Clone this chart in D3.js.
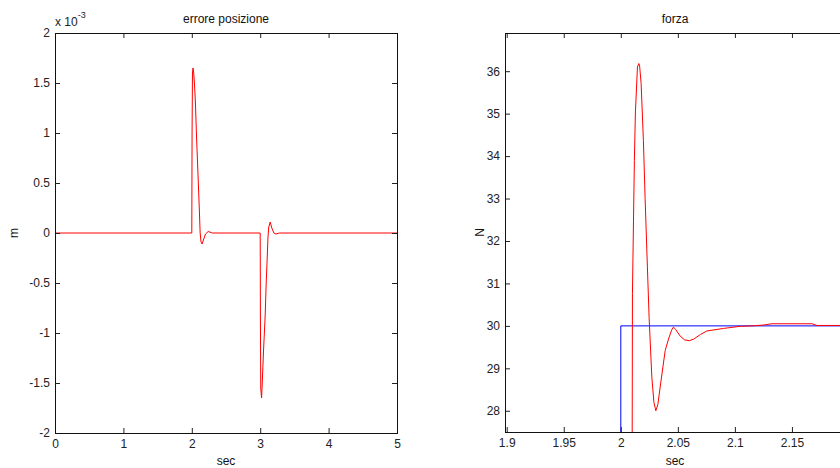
<!DOCTYPE html>
<html>
<head>
<meta charset="utf-8">
<script src="https://cdn.jsdelivr.net/npm/d3@7"></script>
<style>
  body { margin: 0; background: #fff; overflow: hidden; }
  svg { display: block; font-family: "Liberation Sans", Arial, sans-serif; }
  .axis text { font-size: 12px; fill: #222; }
  .axis line { stroke: #222; }
</style>
</head>
<body>
<script>
// errore posizione (valori in 1e-3 m)
var posTime = [0, 2.0, 2.004, 2.01, 2.018, 2.028, 2.04, 2.053, 2.07, 2.088, 2.1, 2.112, 2.122, 2.135, 2.151, 2.17, 2.2, 2.24, 2.3,
               3.0, 3.003, 3.008, 3.02, 3.03, 3.048, 3.062, 3.073, 3.088, 3.103, 3.113, 3.125, 3.146, 3.17, 3.2, 3.23, 3.28, 5];
var posErr  = [0, 0, 1.0, 1.6, 1.65, 1.6, 1.48, 1.3, 0.95, 0.63, 0.42, 0.2, 0.0, -0.09, -0.11, -0.07, -0.01, 0.015, 0,
               0, -0.8, -1.55, -1.65, -1.5, -1.19, -0.98, -0.82, -0.49, -0.24, -0.05, 0.06, 0.11, 0.05, 0, -0.01, 0, 0];

// forza misurata (rosso) e riferimento (blu)
var forceTime = [1.8985, 2.0095, 2.0102, 2.0111, 2.0119, 2.0128, 2.0146, 2.0158, 2.0165, 2.0178, 2.0198, 2.0213, 2.0233, 2.0248,
                 2.0272, 2.029, 2.0307, 2.0325, 2.0345, 2.0389, 2.0418, 2.0445, 2.0461, 2.048, 2.052, 2.056, 2.06, 2.064, 2.07,
                 2.0754, 2.09, 2.1047, 2.115, 2.125, 2.1325, 2.1675, 2.172, 2.2];
var forceVal  = [20, 20, 30.76, 32.45, 33.9, 35.04, 36.1, 36.18, 36.12, 35.71, 34.37, 33.0, 31.39, 30.2,
                 28.79, 28.2, 28.0, 28.15, 28.56, 29.42, 29.69, 29.9, 29.97, 29.92, 29.76, 29.67, 29.65, 29.69, 29.8,
                 29.88, 29.94, 29.99, 30.0, 30.02, 30.05, 30.05, 30.01, 30.01];
var refTime = [1.8985, 2.0, 2.0, 2.2];
var refVal  = [20, 20, 30, 30];

var posXTicks = [0, 1, 2, 3, 4, 5];
var posYTicks = [-2, -1.5, -1, -0.5, 0, 0.5, 1, 1.5, 2];
var forceXTicks = [1.9, 1.95, 2, 2.05, 2.1, 2.15];
var forceYTicks = [28, 29, 30, 31, 32, 33, 34, 35, 36];

var width = 840;
var height = 468;

var svg = d3.select('body').append('svg')
    .attr('width', width)
    .attr('height', height);

var fmt = function (d) { return String(d); };

function draw_panel(opt) {
    var x = d3.scaleLinear().domain(opt.xdom).range([opt.left, opt.right]);
    var y = d3.scaleLinear().domain(opt.ydom).range([opt.bottom, opt.top]);
    var g = svg.append('g');

    var clipId = 'clip' + opt.id;
    g.append('clipPath').attr('id', clipId)
        .append('rect')
        .attr('x', opt.left).attr('y', opt.top)
        .attr('width', opt.right - opt.left).attr('height', opt.bottom - opt.top);

    var plot = g.append('g').attr('clip-path', 'url(#' + clipId + ')');
    var line = d3.line()
        .x(function (d) { return x(d[0]); })
        .y(function (d) { return y(d[1]); });

    opt.series.forEach(function (s) {
        plot.append('path')
            .datum(d3.zip(s.t, s.v))
            .attr('d', line)
            .attr('fill', 'none')
            .attr('stroke', s.color)
            .attr('stroke-width', 1);
    });

    // ticks inside, as in matlab
    g.append('g').attr('class', 'axis')
        .attr('transform', 'translate(0,' + opt.bottom + ')')
        .call(d3.axisBottom(x).tickValues(opt.xticks).tickSizeInner(-5).tickSizeOuter(0).tickPadding(6).tickFormat(fmt));
    g.append('g').attr('class', 'axis')
        .attr('transform', 'translate(0,' + opt.top + ')')
        .call(d3.axisTop(x).tickValues(opt.xticks).tickSizeInner(-5).tickSizeOuter(0).tickFormat(''));
    g.append('g').attr('class', 'axis')
        .attr('transform', 'translate(' + opt.left + ',0)')
        .call(d3.axisLeft(y).tickValues(opt.yticks).tickSizeInner(-5).tickSizeOuter(0).tickPadding(5).tickFormat(fmt));
    g.append('g').attr('class', 'axis')
        .attr('transform', 'translate(' + opt.right + ',0)')
        .call(d3.axisRight(y).tickValues(opt.yticks).tickSizeInner(-5).tickSizeOuter(0).tickFormat(''));
    g.selectAll('.axis .domain').remove();

    g.append('rect')
        .attr('x', opt.left + 0.5).attr('y', opt.top + 0.5)
        .attr('width', opt.right - opt.left).attr('height', opt.bottom - opt.top)
        .attr('fill', 'none').attr('stroke', '#111').attr('stroke-width', 1);

    var cx = opt.titleX;
    g.append('text').attr('x', cx).attr('y', 23)
        .attr('text-anchor', 'middle').style('font-size', '12px').attr('fill', '#111')
        .text(opt.title);
    g.append('text').attr('x', cx).attr('y', 465)
        .attr('text-anchor', 'middle').style('font-size', '12px').attr('fill', '#111')
        .text('sec');
    g.append('text')
        .attr('transform', 'translate(' + opt.ylabelX + ',' + ((opt.top + opt.bottom) / 2) + ') rotate(-90)')
        .attr('text-anchor', 'middle').style('font-size', '12px').attr('fill', '#111')
        .text(opt.ylabel);
    return g;
}

draw_panel({
    id: 1, left: 55, right: 397, top: 33, bottom: 433,
    xdom: [0, 5], ydom: [-2, 2],
    xticks: posXTicks, yticks: posYTicks,
    series: [{ t: posTime, v: posErr, color: '#ff0000' }],
    title: 'errore posizione', titleX: 226, ylabel: 'm', ylabelX: 18
});

draw_panel({
    id: 2, left: 505, right: 849, top: 33, bottom: 432,
    xdom: [1.8985, 2.2], ydom: [27.5, 36.9],
    xticks: forceXTicks, yticks: forceYTicks,
    series: [{ t: refTime, v: refVal, color: '#0000ff' },
             { t: forceTime, v: forceVal, color: '#ff0000' }],
    title: 'forza', titleX: 675, ylabel: 'N', ylabelX: 484
});

// moltiplicatore asse y
var mult = svg.append('text').attr('x', 55).attr('y', 26)
    .style('font-size', '12px').attr('fill', '#222');
mult.append('tspan').text('x 10');
mult.append('tspan').attr('dy', -8).style('font-size', '9px').text('-3');
</script>
</body>
</html>
